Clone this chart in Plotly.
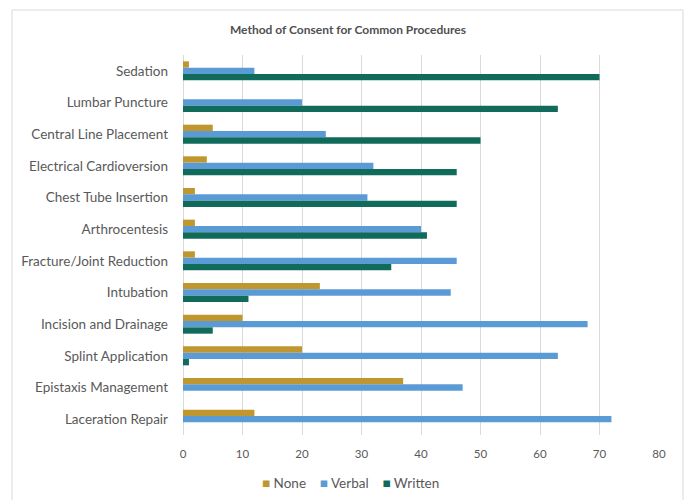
import plotly.graph_objects as go

categories = ["Sedation", "Lumbar Puncture", "Central Line Placement", "Electrical Cardioversion",
              "Chest Tube Insertion", "Arthrocentesis", "Fracture/Joint Reduction", "Intubation",
              "Incision and Drainage", "Splint Application", "Epistaxis Management", "Laceration Repair"]
none_vals = [1, 0, 5, 4, 2, 2, 2, 23, 10, 20, 37, 12]
verbal_vals = [12, 20, 24, 32, 31, 40, 46, 45, 68, 63, 47, 72]
written_vals = [70, 63, 50, 46, 46, 41, 35, 11, 5, 1, 0, 0]
x_ticks = [0, 10, 20, 30, 40, 50, 60, 70, 80]

series = [("None", none_vals, "#C0962E"), ("Verbal", verbal_vals, "#5B9BD5"), ("Written", written_vals, "#116B5B")]

W, H = 689, 500
L, R, T, B = 183, 659, 55, 435

fig = go.Figure()
for name, vals, col in series:
    fig.add_trace(go.Bar(y=categories, x=vals, name=name, orientation="h", showlegend=False,
                         marker=dict(color=col, line=dict(width=0))))

def px_x(p):
    return (p - L) / (R - L)

def px_y(p):
    return (B - p) / (B - T)

# chart border (left, top, right; bottom lies below the visible page)
border = dict(color="#D9D9D9", width=1)
fig.add_shape(type="line", xref="paper", yref="paper", x0=px_x(12), x1=px_x(12), y0=px_y(10), y1=px_y(520), line=border)
fig.add_shape(type="line", xref="paper", yref="paper", x0=px_x(12), x1=px_x(683), y0=px_y(10), y1=px_y(10), line=border)
fig.add_shape(type="line", xref="paper", yref="paper", x0=px_x(683), x1=px_x(683), y0=px_y(10), y1=px_y(520), line=border)

# compact legend
legend_text = "&nbsp;&nbsp;&nbsp;&nbsp;".join(
    f"<span style='color:{col}'>■</span> {name}" for name, _, col in series)
fig.add_annotation(xref="paper", yref="paper", x=px_x(350), y=px_y(483), xanchor="center", yanchor="middle",
                   text=legend_text, showarrow=False, font=dict(size=13.5, color="#595959"))

fig.update_layout(
    width=W, height=H,
    margin=dict(l=L, r=W - R, t=T, b=H - B, pad=0),
    paper_bgcolor="white", plot_bgcolor="white",
    barmode="group", bargap=0.4, bargroupgap=0,
    font=dict(family="Lato, Open Sans, sans-serif", color="#595959"),
    title=dict(text="Method of Consent for Common Procedures", xref="container", x=348 / W, xanchor="center",
               y=1 - 30 / H, yanchor="middle", font=dict(size=12, color="#505050", weight="bold")),
    xaxis=dict(range=[0, 80], tickvals=x_ticks, showgrid=True, gridcolor="#D9D9D9", gridwidth=1,
               zeroline=True, zerolinecolor="#D9D9D9", zerolinewidth=1, showline=False,
               tickfont=dict(size=11.5, color="#595959"), ticks="", ticklabelstandoff=10),
    yaxis=dict(autorange="reversed", showgrid=False, showline=False, ticks="",
               tickfont=dict(size=13.5, color="#595959"), ticklabelstandoff=14),
    showlegend=False,
)

fig.write_html("out.html", post_script="document.body.style.margin='0px';",
               config={"displayModeBar": False})
